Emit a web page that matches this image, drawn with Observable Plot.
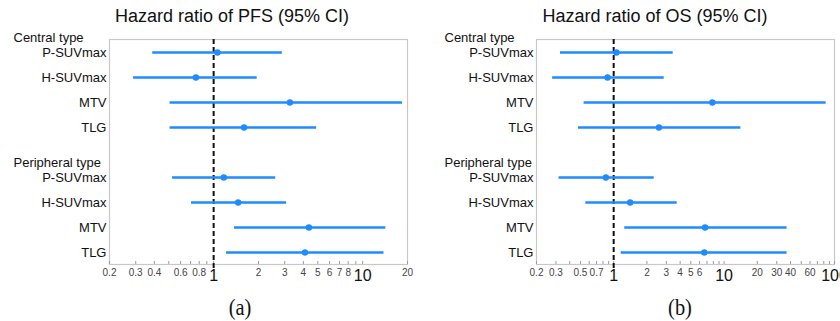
<!DOCTYPE html>
<html>
<head>
<meta charset="utf-8">
<script src="https://cdn.jsdelivr.net/npm/d3@7"></script>
<script src="https://cdn.jsdelivr.net/npm/@observablehq/plot@0.6"></script>
<style>
  html, body { margin: 0; padding: 0; background: #fff; }
  #wrap { position: relative; width: 840px; height: 321px; overflow: hidden; font-family: "Liberation Sans", Arial, Helvetica, sans-serif; }
  .panel { position: absolute; top: 0; width: 420px; height: 290px; }
  .title { position: absolute; top: 6px; font-size: 18px; color: #111; white-space: nowrap; transform: translateX(-50%); }
  .cap { position: absolute; top: 294px; font-family: "Liberation Serif", "Times New Roman", serif; font-size: 24px; color: #111; transform: translateX(-50%) scaleX(0.85); }
</style>
</head>
<body>
<div id="wrap">
  <div class="panel" id="pA" style="left:0"></div>
  <div class="panel" id="pB" style="left:420px"></div>
  <div class="title" style="left:232px">Hazard ratio of PFS (95% CI)</div>
  <div class="title" style="left:655px">Hazard ratio of OS (95% CI)</div>
  <div class="cap" style="left:240px">(a)</div>
  <div class="cap" style="left:680px">(b)</div>
</div>
<script>
// Variables (rows) and group headers
const variables = ["P-SUVmax", "H-SUVmax", "MTV", "TLG"];
const groups = ["Central type", "Peripheral type"];

// PFS hazard ratios (panel a)
const pfsCentralHR = [1.06, 0.76, 3.25, 1.60];
const pfsCentralLo = [0.39, 0.29, 0.51, 0.51];
const pfsCentralHi = [2.89, 1.96, 18.5, 4.91];
const pfsPeripheralHR = [1.17, 1.46, 4.36, 4.10];
const pfsPeripheralLo = [0.53, 0.71, 1.38, 1.22];
const pfsPeripheralHi = [2.61, 3.09, 14.3, 13.9];

// OS hazard ratios (panel b)
const osCentralHR = [1.06, 0.88, 7.83, 2.57];
const osCentralLo = [0.33, 0.28, 0.54, 0.48];
const osCentralHi = [3.46, 2.87, 84, 14.2];
const osPeripheralHR = [0.85, 1.41, 6.72, 6.62];
const osPeripheralLo = [0.32, 0.56, 1.26, 1.17];
const osPeripheralHi = [2.33, 3.76, 37.2, 37.2];

// Axis ticks
const pfsDomain = [0.2, 20];
const pfsSmallLabels = [0.2, 0.3, 0.4, 0.6, 0.8, 2, 3, 4, 5, 6, 7, 8, 20];
const pfsBigLabels = [1, 10];
const pfsMinorTicks = [0.2,0.3,0.4,0.5,0.6,0.7,0.8,0.9,1,2,3,4,5,6,7,8,9,10,20];

const osDomain = [0.2, 100];
const osSmallLabels = [0.2, 0.3, 0.5, 0.7, 2, 3, 4, 5, 6, 20, 30, 40, 60];
const osBigLabels = [1, 10, 100];
const osMinorTicks = [0.2,0.3,0.4,0.5,0.6,0.7,0.8,0.9,1,2,3,4,5,6,7,8,9,10,20,30,40,50,60,70,80,90,100];

const keys = ["c0","c1","c2","c3","gap","p0","p1","p2","p3"];
const labelOf = k => k === "gap" ? "" : variables[+k[1]];

function build(cHR, cLo, cHi, pHR, pLo, pHi) {
  const rows = [];
  variables.forEach((v, i) => rows.push({key: "c" + i, hr: cHR[i], lo: cLo[i], hi: cHi[i]}));
  variables.forEach((v, i) => rows.push({key: "p" + i, hr: pHR[i], lo: pLo[i], hi: pHi[i]}));
  return rows;
}

const blue = "#1f8bff";
const font = "'Liberation Sans', Arial, Helvetica, sans-serif";
const H = 290, MT = 39, MB = 26;

function panel(data, domain, small, big, minor, mLeft, mRight, headerDx) {
  return Plot.plot({
    width: 420,
    height: H,
    marginLeft: mLeft,
    marginRight: mRight,
    marginTop: MT,
    marginBottom: MB,
    style: {fontFamily: font, overflow: "visible", background: "transparent"},
    x: {type: "log", domain, axis: null},
    y: {type: "point", domain: keys, padding: 0.5, axis: null},
    marks: [
      Plot.frame({stroke: "#c8c8c8", strokeWidth: 1.2}),
      Plot.ruleX(minor, {x: d => d, stroke: "#9a9a9a", strokeWidth: 1, insetTop: H - MT - MB - 3}),
      Plot.text(small, {x: d => d, text: d => String(d), frameAnchor: "bottom", lineAnchor: "top", dy: 4, fontSize: 10, fill: "#444"}),
      Plot.text(big, {x: d => d, text: d => String(d), frameAnchor: "bottom", lineAnchor: "top", dy: 5, fontSize: 16, fill: "#111"}),
      Plot.axisY({ticks: keys, tickSize: 0, tickPadding: 3, fontSize: 13, fill: "#111", tickFormat: labelOf, anchor: "left", label: null}),
      Plot.text([{key: "c0", g: groups[0]}, {key: "p0", g: groups[1]}], {
        y: "key", text: "g", frameAnchor: "left", textAnchor: "start", dx: headerDx, dy: -14.5, fontSize: 13, fill: "#111"
      }),
      Plot.ruleX([1], {stroke: "#111", strokeWidth: 2, strokeDasharray: "5,3", insetBottom: -6}),
      Plot.ruleY(data, {y: "key", x1: "lo", x2: "hi", stroke: blue, strokeWidth: 2.5}),
      Plot.dot(data, {y: "key", x: "hr", r: 3.2, fill: blue, stroke: "none"})
    ]
  });
}

document.getElementById("pA").append(panel(
  build(pfsCentralHR, pfsCentralLo, pfsCentralHi, pfsPeripheralHR, pfsPeripheralLo, pfsPeripheralHi),
  pfsDomain, pfsSmallLabels, pfsBigLabels, pfsMinorTicks, 109, 13, -96));
document.getElementById("pB").append(panel(
  build(osCentralHR, osCentralLo, osCentralHi, osPeripheralHR, osPeripheralLo, osPeripheralHi),
  osDomain, osSmallLabels, osBigLabels, osMinorTicks, 116, 6, -92));
</script>
</body>
</html>
